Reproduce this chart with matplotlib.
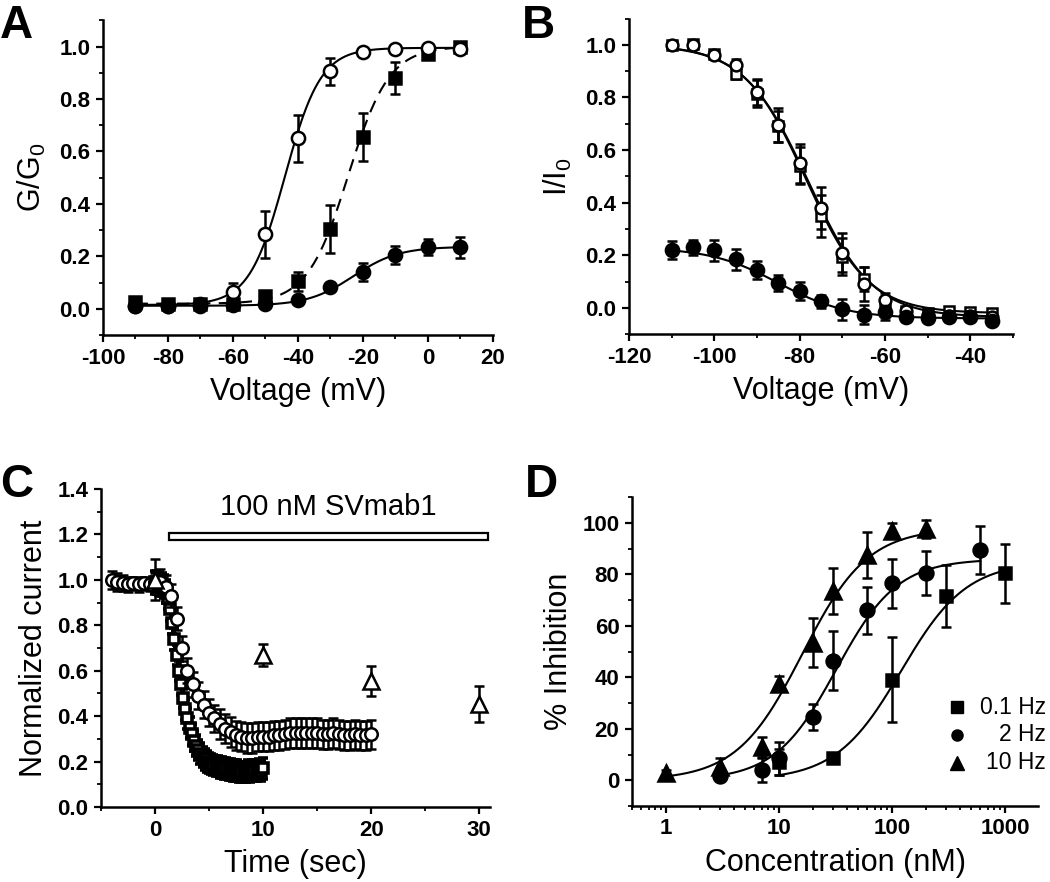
import numpy as np
import matplotlib
matplotlib.use('Agg')
import matplotlib.pyplot as plt
from matplotlib.ticker import MultipleLocator, LogLocator, NullFormatter

plt.rcParams['font.family'] = ['Liberation Sans', 'DejaVu Sans']
plt.rcParams['font.weight'] = 'bold'
plt.rcParams['axes.unicode_minus'] = False
plt.rcParams['mathtext.fontset'] = 'custom'
plt.rcParams['mathtext.rm'] = 'Liberation Sans'
plt.rcParams['mathtext.it'] = 'Liberation Sans'

# ---- panel A : G/G0 vs voltage
a_v = [-90, -80, -70, -60, -50, -40, -30, -20, -10, 0, 10]
a_open = [0.01, 0.01, 0.02, 0.065, 0.285, 0.65, 0.905, 0.98, 0.99, 0.995, 0.99]
a_open_err = [0.005, 0.005, 0.01, 0.035, 0.09, 0.09, 0.05, 0.01, 0.01, 0.01, 0.01]
a_sq = [0.025, 0.02, 0.02, 0.02, 0.05, 0.105, 0.305, 0.655, 0.88, 0.97, 1.0]
a_sq_err = [0.01, 0.01, 0.01, 0.01, 0.015, 0.035, 0.09, 0.09, 0.06, 0.015, 0.01]
a_fill = [0.01, 0.01, 0.01, 0.015, 0.02, 0.035, 0.085, 0.14, 0.205, 0.235, 0.235]
a_fill_err = [0.005, 0.005, 0.005, 0.005, 0.01, 0.01, 0.01, 0.035, 0.035, 0.03, 0.04]
# Boltzmann fit params: bottom, top, v_half, slope
a_fit_open = (0.015, 0.995, -44.0, 5.5)
a_fit_sq = (0.02, 1.0, -24.5, 6.3)
a_fit_fill = (0.012, 0.237, -23.0, 7.0)

# ---- panel B : I/I0 vs voltage
b_v = [-110, -105, -100, -95, -90, -85, -80, -75, -70, -65, -60, -55, -50, -45, -40, -35]
b_open = [1.0, 1.0, 0.96, 0.925, 0.82, 0.695, 0.55, 0.38, 0.21, 0.09, 0.03, -0.01, -0.025, -0.03, -0.03, -0.035]
b_open_err = [0.01, 0.01, 0.015, 0.02, 0.05, 0.065, 0.075, 0.08, 0.075, 0.065, 0.025, 0.015, 0.01, 0.01, 0.01, 0.01]
b_sq = [1.0, 1.005, 0.965, 0.89, 0.815, 0.69, 0.54, 0.35, 0.195, 0.11, 0.02, -0.01, -0.02, -0.01, -0.015, -0.02]
b_sq_err = [0.01, 0.01, 0.015, 0.02, 0.05, 0.06, 0.07, 0.08, 0.07, 0.045, 0.02, 0.015, 0.01, 0.01, 0.01, 0.01]
b_fill = [0.22, 0.23, 0.22, 0.185, 0.145, 0.095, 0.065, 0.025, -0.005, -0.025, -0.015, -0.035, -0.04, -0.035, -0.035, -0.05]
b_fill_err = [0.035, 0.03, 0.04, 0.04, 0.035, 0.03, 0.035, 0.025, 0.04, 0.035, 0.03, 0.01, 0.01, 0.01, 0.01, 0.01]
b_fit_open = (-0.035, 1.0, -78.0, -7.5)
b_fit_sq = (-0.02, 1.0, -78.5, -7.3)
b_fit_fill = (-0.04, 0.23, -85.0, -8.0)

# ---- panel C : time course at 100 nM SVmab1
c_t_circ = [-4, -3.5, -3, -2.5, -2, -1.5, -1, -0.5, 0, 0.5, 1, 1.5, 2, 2.5, 3, 3.5, 4, 4.5, 5, 5.5,
            6, 6.5, 7, 7.5, 8, 8.5, 9, 9.5, 10, 10.5, 11, 11.5, 12, 12.5, 13, 13.5, 14, 14.5, 15,
            15.5, 16, 16.5, 17, 17.5, 18, 18.5, 19, 19.5, 20]
c_circ = [1.0, 0.99, 0.985, 0.98, 0.985, 0.98, 0.985, 0.98, 0.99, 0.99, 0.97, 0.93, 0.83, 0.70, 0.60,
          0.54, 0.49, 0.45, 0.415, 0.39, 0.365, 0.345, 0.33, 0.315, 0.31, 0.305, 0.305, 0.31, 0.31,
          0.31, 0.315, 0.315, 0.32, 0.325, 0.325, 0.325, 0.325, 0.325, 0.325, 0.32, 0.32, 0.325,
          0.32, 0.315, 0.315, 0.32, 0.315, 0.315, 0.32]
c_circ_err = [0.04, 0.04, 0.035, 0.035, 0.03, 0.035, 0.03, 0.03, 0.04, 0.06, 0.05, 0.05, 0.05, 0.055,
              0.055, 0.055, 0.06, 0.06, 0.06, 0.06, 0.065, 0.065, 0.065, 0.065, 0.065, 0.065, 0.065,
              0.065, 0.065, 0.065, 0.065, 0.065, 0.065, 0.065, 0.065, 0.065, 0.065, 0.065, 0.065,
              0.065, 0.065, 0.065, 0.065, 0.065, 0.065, 0.065, 0.065, 0.065, 0.065]
c_t_sq = [0.0, 0.2, 0.4, 0.6, 0.8, 1.0, 1.2, 1.4, 1.6, 1.8, 2.0, 2.2, 2.4, 2.6, 2.8, 3.0, 3.2, 3.4,
          3.6, 3.8, 4.0, 4.2, 4.4, 4.6, 4.8, 5.0, 5.2, 5.4, 5.6, 5.8, 6.0, 6.2, 6.4, 6.6, 6.8, 7.0,
          7.2, 7.4, 7.6, 7.8, 8.0, 8.2, 8.4, 8.6, 8.8, 9.0, 9.2, 9.4, 9.6, 9.8, 10.0]
c_sq = [0.99, 0.99, 0.985, 0.98, 0.97, 0.95, 0.92, 0.87, 0.81, 0.74, 0.67, 0.60, 0.54, 0.48, 0.43,
        0.39, 0.35, 0.32, 0.29, 0.27, 0.25, 0.235, 0.22, 0.21, 0.20, 0.195, 0.19, 0.185, 0.18, 0.18,
        0.175, 0.175, 0.17, 0.17, 0.165, 0.165, 0.16, 0.16, 0.16, 0.155, 0.155, 0.155, 0.155, 0.16,
        0.155, 0.16, 0.16, 0.16, 0.165, 0.16, 0.17]
c_sq_err = [0.05] * 10 + [0.045] * 41
c_t_tri = [0, 10, 20, 30]
c_tri = [1.0, 0.67, 0.555, 0.455]
c_tri_err = [0.09, 0.05, 0.065, 0.08]
bar_start, bar_end = 1.3, 30.8

# ---- panel D : concentration-inhibition
d_conc_sq = [10, 30, 100, 300, 1000]
d_sq = [7, 8.5, 39, 71.5, 80.5]
d_sq_err = [5, 1.5, 16.5, 12, 11.5]
d_conc_circ = [3, 7, 10, 20, 30, 60, 100, 200, 600]
d_circ = [1.5, 4, 8.5, 24.5, 46.5, 66, 76.5, 80.5, 89.5]
d_circ_err = [1, 4.5, 6.5, 5, 11.5, 9, 9.5, 8.5, 9.5]
d_conc_tri = [1, 3, 7, 10, 20, 30, 60, 100, 200]
d_tri = [3, 5, 13, 37.5, 53.5, 73.5, 87.5, 97, 97.5]
d_tri_err = [1, 3.5, 4, 3, 9.5, 9, 9, 3, 3.5]
# Hill fit params: top, ic50, n
d_fit_sq = (85, 120, 1.5)
d_fit_circ = (86, 32, 1.6)
d_fit_tri = (98, 16, 1.5)
legend_labels = ['0.1 Hz', '2 Hz', '10 Hz']


def boltz(v, p):
    bot, top, vh, k = p
    return bot + (top - bot) / (1 + np.exp((vh - v) / k))


def hill(c, p):
    top, ic50, n = p
    return top / (1 + (ic50 / c) ** n)


def style(ax):
    for s in ['top', 'right']:
        ax.spines[s].set_visible(False)
    for s in ['left', 'bottom']:
        ax.spines[s].set_linewidth(1.8)
    ax.tick_params(which='major', direction='out', length=5, width=1.6, labelsize=16, pad=4)
    ax.tick_params(which='minor', direction='out', length=3, width=1.3)


def ebar(ax, x, y, e, marker, ms, filled, zorder=3, mew=1.8, elw=1.8):
    ax.errorbar(x, y, yerr=e, fmt=marker, ms=ms, mfc='black' if filled else 'white',
                mec='black', mew=mew, ecolor='black', elinewidth=elw, capsize=3.5,
                capthick=elw, zorder=zorder)


fig = plt.figure(figsize=(10.5, 8.82), dpi=100)
axA = fig.add_axes([0.098, 0.620, 0.3715, 0.357])
axB = fig.add_axes([0.599, 0.621, 0.3657, 0.358])
axC = fig.add_axes([0.0962, 0.085, 0.3705, 0.3605])
axD = fig.add_axes([0.6019, 0.0862, 0.3867, 0.350])
lab_kw = dict(fontsize=22, fontweight='normal')

# A
vv = np.linspace(-90, 10, 300)
axA.plot(vv, boltz(vv, a_fit_open), color='black', lw=1.5, zorder=2)
axA.plot(vv, boltz(vv, a_fit_sq), color='black', lw=1.5, ls=(0, (6, 4)), zorder=2)
axA.plot(vv, boltz(vv, a_fit_fill), color='black', lw=1.5, zorder=2)
ebar(axA, a_v, a_sq, a_sq_err, 's', 8, True)
ebar(axA, a_v, a_open, a_open_err, 'o', 9.5, False)
ebar(axA, a_v, a_fill, a_fill_err, 'o', 9.5, True)
axA.set_xlim(-100, 20)
axA.set_ylim(-0.1, 1.1)
axA.xaxis.set_major_locator(MultipleLocator(20))
axA.xaxis.set_minor_locator(MultipleLocator(10))
axA.set_yticks([0, 0.2, 0.4, 0.6, 0.8, 1.0])
axA.yaxis.set_minor_locator(MultipleLocator(0.1))
axA.set_xlabel('Voltage (mV)', labelpad=6, **lab_kw)
axA.set_ylabel('G/G$_\\mathregular{0}$', labelpad=8, **lab_kw)
style(axA)

# B
vb = np.linspace(-110, -35, 300)
axB.plot(vb, boltz(vb, b_fit_open), color='black', lw=1.5, zorder=2)
axB.plot(vb, boltz(vb, b_fit_sq), color='black', lw=1.5, zorder=2)
axB.plot(vb, boltz(vb, b_fit_fill), color='black', lw=1.5, zorder=2)
ebar(axB, b_v, b_sq, b_sq_err, 's', 7.5, False)
ebar(axB, b_v, b_open, b_open_err, 'o', 8.5, False)
ebar(axB, b_v, b_fill, b_fill_err, 'o', 9.5, True)
axB.set_xlim(-120, -30)
axB.set_ylim(-0.1, 1.1)
axB.set_xticks([-120, -100, -80, -60, -40])
axB.xaxis.set_minor_locator(MultipleLocator(10))
axB.set_yticks([0, 0.2, 0.4, 0.6, 0.8, 1.0])
axB.yaxis.set_minor_locator(MultipleLocator(0.1))
axB.set_xlabel('Voltage (mV)', labelpad=6, **lab_kw)
axB.set_ylabel('I/I$_\\mathregular{0}$', labelpad=8, **lab_kw)
style(axB)

# C
ebar(axC, c_t_sq, c_sq, c_sq_err, 's', 7.5, False, zorder=3, mew=2.6, elw=2.2)
ebar(axC, c_t_circ, c_circ, c_circ_err, 'o', 9, False, zorder=4)
ebar(axC, c_t_tri, c_tri, c_tri_err, '^', 11, False, zorder=4)
axC.add_patch(plt.Rectangle((bar_start, 1.175), bar_end - bar_start, 0.03, facecolor='white',
                            edgecolor='black', lw=1.6, clip_on=False))
axC.text((bar_start + bar_end) / 2, 1.32, '100 nM SVmab1', ha='center', va='center',
         fontsize=21, fontweight='normal')
axC.set_xlim(-5, 31)
axC.set_ylim(0, 1.4)
axC.set_xticks([0, 10, 20, 30])
axC.xaxis.set_minor_locator(MultipleLocator(5))
axC.yaxis.set_major_locator(MultipleLocator(0.2))
axC.yaxis.set_minor_locator(MultipleLocator(0.1))
axC.set_xlabel('Time (sec)', labelpad=6, **lab_kw)
axC.set_ylabel('Normalized current', labelpad=6, **lab_kw)
style(axC)

# D
axD.set_xscale('log')
c1 = np.logspace(np.log10(10), np.log10(1000), 200)
c2 = np.logspace(np.log10(3), np.log10(600), 200)
c3 = np.logspace(np.log10(1), np.log10(200), 200)
axD.plot(c1, hill(c1, d_fit_sq), color='black', lw=1.5, zorder=2)
axD.plot(c2, hill(c2, d_fit_circ), color='black', lw=1.5, zorder=2)
axD.plot(c3, hill(c3, d_fit_tri), color='black', lw=1.5, zorder=2)
ebar(axD, d_conc_sq, d_sq, d_sq_err, 's', 9, True)
ebar(axD, d_conc_circ, d_circ, d_circ_err, 'o', 10, True)
ebar(axD, d_conc_tri, d_tri, d_tri_err, '^', 11, True)
axD.set_xlim(0.5, 1950)
axD.set_ylim(-10, 110)
axD.xaxis.set_minor_locator(LogLocator(base=10, subs=np.arange(2, 10), numticks=20))
axD.xaxis.set_minor_formatter(NullFormatter())
axD.set_xticks([1, 10, 100, 1000])
axD.set_xticklabels(['1', '10', '100', '1000'])
axD.set_yticks([0, 20, 40, 60, 80, 100])
axD.yaxis.set_minor_locator(MultipleLocator(10))
axD.set_xlabel('Concentration (nM)', labelpad=6, **lab_kw)
axD.set_ylabel('% Inhibition', labelpad=6, **lab_kw)
style(axD)
# legend drawn by hand so labels are right aligned
leg_marks = ['s', 'o', '^']
leg_y = [0.32, 0.23, 0.14]
for mk, lab, yy in zip(leg_marks, legend_labels, leg_y):
    axD.plot([0.800], [yy], marker=mk, ms=8 if mk != '^' else 9.5, color='black',
             transform=axD.transAxes, clip_on=False)
    axD.text(1.02, yy, lab, transform=axD.transAxes, ha='right', va='center',
             fontsize=16.5, fontweight='normal')

# panel letters
for lab, x, y in [('A', 0.0, 0.995), ('B', 0.497, 0.995), ('C', 0.0, 0.475), ('D', 0.5, 0.475)]:
    fig.text(x, y, lab, fontsize=33, fontweight='bold', ha='left', va='top')

fig.savefig('out.png', dpi=100)
